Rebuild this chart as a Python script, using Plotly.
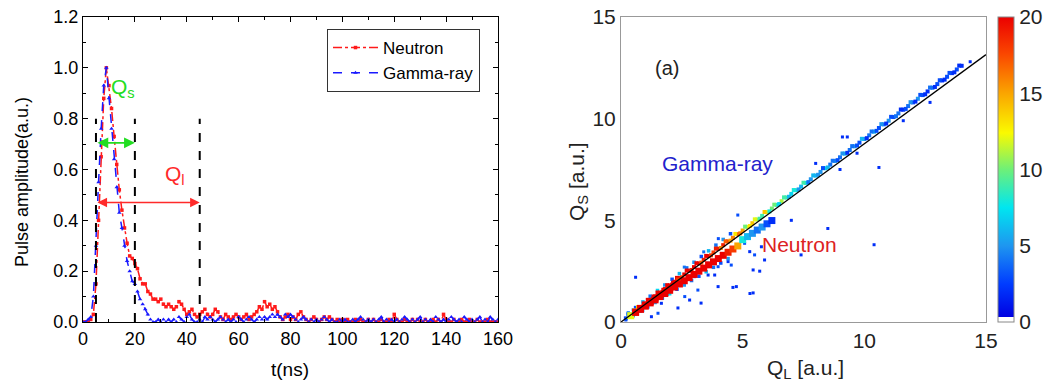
import plotly.graph_objects as go

# ---------------- Left panel data (pulse shapes) ----------------
t_ns = list(range(0, 161))
neutron_amp = [
    0, 0, 0, 0.01, 0.03, 0.15, 0.40, 0.65, 0.88, 1.00,
    0.93, 0.84, 0.73, 0.62, 0.52, 0.44, 0.37, 0.31, 0.26, 0.25,
    0.23, 0.21, 0.17, 0.15, 0.15, 0.12, 0.11, 0.09, 0.09, 0.08,
    0.09, 0.07, 0.06, 0.07, 0.06, 0.05, 0.06, 0.08, 0.07, 0.05,
    0.03, 0.04, 0.05, 0.03, 0.02, 0.03, 0.04, 0.05, 0.03, 0.02,
    0.03, 0.05, 0.04, 0.02, 0.01, 0.03, 0.02, 0.01, 0.02, 0.03,
    0.02, 0.01, 0.02, 0.03, 0.01, 0.02, 0.03, 0.04, 0.06, 0.05,
    0.08, 0.06, 0.07, 0.05, 0.06, 0.04, 0.02, 0.01, 0.02, 0.03,
    0.01, 0.02, 0.01, 0.03, 0.04, 0.02, 0.01, 0.00, 0.01, 0.02,
    0.01, 0.00, 0.01, 0.02, 0.01, 0.02, 0.01, 0.00, 0.01, 0.00,
    0.01, 0.00, 0.01, 0.00, 0.00, 0.01, 0.00, 0.01, 0.00, 0.00,
    0.01, 0.00, 0.01, 0.00, 0.00, 0.01, 0.00, 0.00, 0.01, 0.00,
    0.03, 0.01, 0.00, 0.00, 0.01, 0.00, 0.00, 0.01, 0.00, 0.01,
    0.00, 0.00, 0.01, 0.00, 0.00, 0.01, 0.00, 0.01, 0.00, 0.03,
    0.01, 0.00, 0.00, 0.01, 0.00, 0.00, 0.01, 0.00, 0.00, 0.01,
    0.00, 0.00, 0.01, 0.00, 0.00, 0.00, 0.01, 0.00, 0.00, 0.00,
    0.00,
]
gamma_amp = [
    0, 0, 0.01, 0.02, 0.10, 0.30, 0.55, 0.76, 0.93, 1.00,
    0.88, 0.76, 0.64, 0.53, 0.43, 0.37, 0.30, 0.24, 0.20, 0.16,
    0.15, 0.12, 0.09, 0.07, 0.05, 0.03, 0.01, 0.00, 0.00, 0.01,
    0.00, 0.01, 0.00, 0.01, 0.00, 0.01, 0.00, 0.02, 0.01, 0.00,
    0.02, 0.03, 0.01, 0.00, 0.00, 0.01, 0.00, 0.02, 0.01, 0.02,
    0.01, 0.00, 0.01, 0.02, 0.01, 0.00, 0.01, 0.00, 0.01, 0.00,
    0.02, 0.01, 0.00, 0.01, 0.02, 0.01, 0.00, 0.01, 0.02, 0.01,
    0.02, 0.01, 0.02, 0.03, 0.02, 0.03, 0.02, 0.01, 0.03, 0.02,
    0.03, 0.02, 0.01, 0.00, 0.01, 0.02, 0.01, 0.00, 0.01, 0.00,
    0.01, 0.00, 0.01, 0.02, 0.01, 0.00, 0.01, 0.00, 0.00, 0.01,
    0.00, 0.01, 0.00, 0.00, 0.01, 0.00, 0.01, 0.02, 0.01, 0.00,
    0.01, 0.00, 0.01, 0.00, 0.01, 0.02, 0.00, 0.01, 0.00, 0.01,
    0.00, 0.01, 0.00, 0.01, 0.02, 0.01, 0.00, 0.01, 0.00, 0.01,
    0.02, 0.00, 0.01, 0.00, 0.01, 0.00, 0.02, 0.01, 0.00, 0.01,
    0.00, 0.01, 0.02, 0.01, 0.00, 0.01, 0.00, 0.02, 0.01, 0.00,
    0.01, 0.00, 0.01, 0.02, 0.00, 0.01, 0.00, 0.02, 0.01, 0.00,
    0.01,
]
gate_times = [5, 20, 45]
gate_top = 0.8

# ---------------- Right panel data (QS vs QL density) ----------------
gamma_ql = [0.2, 0.4, 0.6, 0.8, 1.0, 1.2, 1.4, 1.6, 1.8, 2.0,
            2.2, 2.4, 2.6, 2.8, 3.0, 3.2, 3.4, 3.6, 3.8, 4.0,
            4.2, 4.4, 4.6, 4.8, 5.0, 5.2, 5.4, 5.6, 5.8, 6.0,
            6.2, 6.4, 6.6, 6.8, 7.0, 7.2, 7.4, 7.6, 7.8, 8.0,
            8.2, 8.4, 8.6, 8.8, 9.0, 9.2, 9.4, 9.6, 9.8, 10.0,
            10.2, 10.4, 10.6, 10.8, 11.0, 11.2, 11.4, 11.6, 11.8, 12.0,
            12.2, 12.4, 12.6, 12.8, 13.0, 13.2, 13.4, 13.6, 13.8, 14.0]
gamma_qs = [0.18, 0.36, 0.54, 0.72, 0.90, 1.08, 1.26, 1.44, 1.62, 1.80,
            1.98, 2.16, 2.34, 2.52, 2.70, 2.88, 3.06, 3.24, 3.42, 3.60,
            3.78, 3.96, 4.14, 4.32, 4.50, 4.68, 4.86, 5.04, 5.22, 5.40,
            5.58, 5.76, 5.94, 6.12, 6.30, 6.48, 6.66, 6.84, 7.02, 7.20,
            7.38, 7.56, 7.74, 7.92, 8.10, 8.28, 8.46, 8.64, 8.82, 9.00,
            9.18, 9.36, 9.54, 9.72, 9.90, 10.08, 10.26, 10.44, 10.62, 10.80,
            10.98, 11.16, 11.34, 11.52, 11.70, 11.88, 12.06, 12.24, 12.42, 12.60]
gamma_cnt = [3, 5, 10, 16, 20, 20, 20, 20, 20, 20,
             20, 20, 20, 20, 20, 20, 19, 20, 18, 20,
             19, 18, 16, 18, 15, 12, 14, 11, 9, 12,
             10, 8, 11, 9, 7, 8, 6, 7, 5, 6,
             5, 7, 4, 5, 4, 6, 4, 5, 3, 5,
             4, 6, 3, 4, 5, 3, 4, 2, 4, 3,
             5, 3, 2, 4, 3, 2, 3, 2, 3, 2]

gamma2_ql = [0.3, 0.5, 0.7, 0.9, 1.1, 1.3, 1.5, 1.7, 1.9, 2.1,
             2.3, 2.5, 2.7, 2.9, 3.1, 3.3, 3.5, 3.7, 3.9, 4.1,
             4.3, 4.5, 4.7, 4.9, 5.1, 5.3, 5.5, 5.7, 5.9, 6.1,
             6.3, 6.5, 6.7, 6.9, 7.1, 7.3, 7.5, 7.7, 7.9, 8.1,
             8.3, 8.5, 8.7, 8.9, 9.1, 9.3, 9.5, 9.7, 9.9, 10.1,
             10.3, 10.5, 10.7, 10.9, 11.1, 11.3, 11.5, 11.7, 11.9, 12.1,
             12.3, 12.5, 12.7, 12.9, 13.1, 13.3, 13.5, 13.7, 13.9]
gamma2_qs = [0.37, 0.40, 0.73, 0.76, 1.09, 1.12, 1.45, 1.48, 1.81, 1.84,
             2.17, 2.20, 2.53, 2.56, 2.89, 2.92, 3.25, 3.28, 3.61, 3.64,
             3.97, 4.00, 4.33, 4.36, 4.69, 4.72, 5.05, 5.08, 5.41, 5.44,
             5.77, 5.80, 6.13, 6.16, 6.49, 6.52, 6.85, 6.88, 7.21, 7.24,
             7.57, 7.60, 7.93, 7.96, 8.29, 8.32, 8.65, 8.68, 9.01, 9.04,
             9.37, 9.40, 9.73, 9.76, 10.09, 10.12, 10.45, 10.48, 10.81, 10.84,
             11.17, 11.20, 11.53, 11.56, 11.89, 11.92, 12.25, 12.28, 12.61]
gamma2_cnt = [4, 8, 14, 18, 20, 20, 20, 19, 20, 20,
              20, 18, 20, 19, 20, 17, 20, 18, 19, 16,
              17, 15, 13, 16, 10, 13, 12, 9, 14, 8,
              10, 7, 9, 6, 8, 5, 9, 4, 6, 5,
              3, 6, 4, 3, 5, 2, 4, 3, 6, 2,
              4, 3, 5, 2, 3, 4, 2, 3, 5, 2,
              3, 2, 4, 2, 3, 2, 3, 2, 2]

neutron_ql = [0.4, 0.6, 0.8, 1.0, 1.2, 1.4, 1.6, 1.8, 2.0, 2.2,
              2.4, 2.6, 2.8, 3.0, 3.2, 3.4, 3.6, 3.8, 4.0, 4.2,
              4.4, 4.6, 4.8, 5.0, 5.2, 5.4, 5.6, 5.8, 6.0, 6.2]
neutron_qs = [0.31, 0.47, 0.62, 0.78, 0.94, 1.09, 1.25, 1.40, 1.56, 1.72,
              1.87, 2.03, 2.18, 2.34, 2.50, 2.65, 2.81, 2.96, 3.12, 3.28,
              3.43, 3.59, 3.74, 4.05, 4.20, 4.36, 4.52, 4.67, 4.83, 4.99]
neutron_cnt = [12, 20, 20, 20, 20, 20, 20, 20, 20, 20,
               20, 20, 20, 20, 20, 20, 20, 20, 20, 20,
               19, 18, 15, 8, 6, 5, 4, 5, 3, 2]

merge_ql = [0.6, 0.8, 1.0, 1.2, 1.4, 1.6, 1.8, 2.0, 2.2, 2.4]
merge_qs = [0.50, 0.67, 0.84, 1.01, 1.18, 1.34, 1.51, 1.68, 1.85, 2.02]
merge_cnt = [16, 20, 20, 20, 20, 20, 20, 20, 20, 18]

halo_ql = [0.3, 0.6, 0.9, 1.2, 1.5, 1.8, 2.1, 2.4, 2.7, 3.0,
           3.3, 3.6, 3.9, 4.2, 4.5, 0.5, 0.8, 1.1, 1.4, 1.7,
           2.0, 2.3, 2.6, 2.9, 3.2, 3.5, 3.8, 4.1, 4.4]
halo_qs = [0.43, 0.71, 0.99, 1.27, 1.55, 1.82, 2.10, 2.38, 2.66, 2.94,
           3.22, 3.50, 3.78, 4.06, 4.34, 0.31, 0.53, 0.74, 0.96, 1.17,
           1.39, 1.61, 1.82, 2.04, 2.25, 2.47, 2.69, 2.90, 3.12]
halo_cnt = [5, 3, 6, 4, 7, 5, 3, 6, 4, 5,
            3, 6, 4, 5, 3, 4, 6, 3, 5, 4,
            7, 3, 5, 4, 3, 6, 4, 3, 5]

stray_ql = [0.6, 0.3, 0.5, 0.2, 1.25, 1.52, 1.66, 2.34, 2.62, 2.82,
            3.03, 3.16, 3.29, 3.58, 3.58, 3.85, 3.99, 3.99, 4.40, 4.53,
            4.74, 5.08, 5.29, 5.43, 5.43, 5.49, 5.70, 5.77, 5.90, 4.60,
            5.30, 7.40, 7.00, 8.50, 9.10, 8.00, 10.60, 10.40, 9.30, 9.00,
            9.70, 12.70, 11.60, 14.35, 2.60, 3.40, 4.00, 4.80, 0.9, 1.9]
stray_qs = [2.20, 0.45, 0.60, 0.10, 0.26, 0.43, 0.92, 0.69, 1.25, 1.08,
            2.23, 1.57, 0.93, 2.31, 2.89, 2.31, 1.74, 2.72, 2.97, 2.80,
            1.74, 3.87, 3.46, 2.56, 1.43, 3.30, 2.50, 3.70, 3.05, 1.70,
            1.40, 3.30, 5.00, 4.60, 9.10, 7.80, 7.60, 3.80, 9.10, 7.50,
            8.30, 10.80, 9.90, 12.80, 2.70, 3.45, 4.10, 5.26, 0.55, 1.35]
stray_cnt = [2, 3, 4, 3, 2, 3, 2, 2, 3, 2,
             2, 3, 2, 2, 3, 2, 2, 3, 2, 3,
             2, 3, 2, 2, 2, 3, 2, 2, 2, 2,
             2, 2, 2, 2, 2, 2, 2, 2, 2, 2,
             2, 2, 2, 2, 4, 4, 3, 3, 5, 4]

line_ql = [0, 15]
line_qs = [0, 13.15]

FONT = "Arial, Liberation Sans, sans-serif"
W, H = 1047, 383

def px_x(p):
    return p / W

def px_y(p):
    return (H - p) / H

fig = go.Figure()

# left panel traces
fig.add_trace(go.Scatter(
    x=t_ns, y=neutron_amp, name="Neutron", mode="lines+markers",
    line=dict(color="#ff1a1a", width=1.5, dash="dashdot"),
    marker=dict(symbol="square", size=3.5, color="#ff1a1a"),
    xaxis="x", yaxis="y"))
fig.add_trace(go.Scatter(
    x=t_ns, y=gamma_amp, name="Gamma-ray", mode="lines+markers",
    line=dict(color="#1a1aff", width=1.5, dash="dash"),
    marker=dict(symbol="triangle-up", size=4, color="#1a1aff"),
    xaxis="x", yaxis="y"))

# right panel traces
for qx, qy, cnt, sz in [(stray_ql, stray_qs, stray_cnt, 3),
                        (halo_ql, halo_qs, halo_cnt, 3.5),
                        (gamma_ql, gamma_qs, gamma_cnt, 4),
                        (gamma2_ql, gamma2_qs, gamma2_cnt, 4),
                        (merge_ql, merge_qs, merge_cnt, 7),
                        (neutron_ql, neutron_qs, neutron_cnt, 7)]:
    fig.add_trace(go.Scatter(
        x=qx, y=qy, mode="markers", showlegend=False,
        marker=dict(symbol="square", size=sz, color=cnt, coloraxis="coloraxis",
                    line=dict(width=0)),
        xaxis="x2", yaxis="y2"))
fig.add_trace(go.Scatter(
    x=line_ql, y=line_qs, mode="lines", showlegend=False,
    line=dict(color="black", width=1.3), xaxis="x2", yaxis="y2"))

shapes = []
for g in gate_times:
    shapes.append(dict(type="line", xref="x", yref="y", x0=g, x1=g, y0=0, y1=gate_top,
                       line=dict(color="black", width=2, dash="dash")))

C = dict(xanchor="center", yanchor="middle", showarrow=False)
annotations = [
    dict(x=20, y=0.705, ax=5, ay=0.705, xref="x", yref="y", axref="x", ayref="y",
         text="", showarrow=True, arrowside="end+start", arrowhead=2, arrowsize=1.2,
         arrowwidth=1.8, arrowcolor="#22dd22"),
    dict(x=45, y=0.47, ax=5, ay=0.47, xref="x", yref="y", axref="x", ayref="y",
         text="", showarrow=True, arrowside="end+start", arrowhead=2, arrowsize=1.2,
         arrowwidth=1.6, arrowcolor="#ff2a2a"),
    dict(x=15.5, y=0.92, xref="x", yref="y", text="Q<sub>s</sub>",
         font=dict(family=FONT, size=21, color="#22dd22"), **C),
    dict(x=35.5, y=0.58, xref="x", yref="y", text="Q<sub>l</sub>",
         font=dict(family=FONT, size=21, color="#ff2a2a"), **C),
    dict(x=px_x(22), y=px_y(182), xref="paper", yref="paper", text="Pulse amplitude(a.u.)",
         textangle=-90, font=dict(family=FONT, size=18, color="black"), **C),
    dict(x=px_x(290), y=px_y(369), xref="paper", yref="paper", text="t(ns)",
         font=dict(family=FONT, size=19, color="black"), **C),
    dict(x=1.9, y=12.5, xref="x2", yref="y2", text="(a)",
         font=dict(family=FONT, size=20, color="#222"), **C),
    dict(x=3.95, y=7.8, xref="x2", yref="y2", text="Gamma-ray",
         font=dict(family=FONT, size=21, color="#2222cc"), **C),
    dict(x=7.35, y=3.8, xref="x2", yref="y2", text="Neutron",
         font=dict(family=FONT, size=21, color="#dd2222"), **C),
    dict(x=px_x(578), y=px_y(182), xref="paper", yref="paper", text="Q<sub>S</sub> [a.u.]",
         textangle=-90, font=dict(family=FONT, size=21, color="#222"), **C),
    dict(x=px_x(805), y=px_y(369), xref="paper", yref="paper", text="Q<sub>L</sub> [a.u.]",
         font=dict(family=FONT, size=21, color="#222"), **C),
]

colorscale = [
    [0.0, "white"], [0.015, "white"], [0.015, "rgb(0,0,225)"],
    [0.125, "rgb(0,60,255)"], [0.25, "rgb(30,150,240)"], [0.375, "rgb(0,230,240)"],
    [0.5, "rgb(110,240,120)"], [0.62, "rgb(250,250,0)"], [0.75, "rgb(250,165,0)"],
    [0.88, "rgb(250,70,0)"], [1.0, "rgb(235,0,0)"],
]

fig.update_layout(
    width=W, height=H,
    margin=dict(l=0, r=0, t=0, b=0, autoexpand=False),
    paper_bgcolor="white", plot_bgcolor="white",
    font=dict(family=FONT, color="black"),
    shapes=shapes, annotations=annotations,
    legend=dict(x=px_x(327), y=px_y(29), xanchor="left", yanchor="top",
                bgcolor="white", bordercolor="#333", borderwidth=1,
                font=dict(family=FONT, size=17, color="black"),
                tracegroupgap=0, itemwidth=45),
    xaxis=dict(domain=[px_x(83), px_x(498)], range=[0, 160], dtick=20, tick0=0,
               showgrid=False, zeroline=False, showline=True, linecolor="black", linewidth=1,
               mirror="allticks", ticks="inside", ticklen=5, tickcolor="black",
               minor=dict(ticks="inside", dtick=10, ticklen=3, tickcolor="black", showgrid=False),
               tickfont=dict(family=FONT, size=18, color="black"), anchor="y"),
    yaxis=dict(domain=[px_y(322), px_y(17)], range=[0, 1.2], dtick=0.2, tick0=0,
               tickformat=".1f",
               showgrid=False, zeroline=False, showline=True, linecolor="black", linewidth=1,
               mirror="allticks", ticks="inside", ticklen=5, tickcolor="black",
               minor=dict(ticks="inside", dtick=0.1, ticklen=3, tickcolor="black", showgrid=False),
               tickfont=dict(family=FONT, size=18, color="black"), anchor="x"),
    xaxis2=dict(domain=[px_x(621), px_x(986)], range=[0, 15], dtick=5, tick0=0,
                showgrid=False, zeroline=False, showline=True, linecolor="#999", linewidth=1,
                mirror=True, ticks="", tickfont=dict(family=FONT, size=21, color="#222"),
                anchor="y2"),
    yaxis2=dict(domain=[px_y(322), px_y(17)], range=[0, 15], dtick=5, tick0=0,
                showgrid=False, zeroline=False, showline=True, linecolor="#999", linewidth=1,
                mirror=True, ticks="", tickfont=dict(family=FONT, size=21, color="#222"),
                anchor="x2"),
    coloraxis=dict(cmin=0, cmax=20, colorscale=colorscale,
                   colorbar=dict(x=px_x(998), xanchor="left", y=px_y(17), yanchor="top",
                                 len=305, lenmode="pixels", thickness=16,
                                 xpad=0, ypad=0, outlinecolor="#888", outlinewidth=1,
                                 tickvals=[0, 5, 10, 15, 20], ticks="",
                                 tickfont=dict(family=FONT, size=21, color="#222"))),
)

fig.write_html("out.html")
